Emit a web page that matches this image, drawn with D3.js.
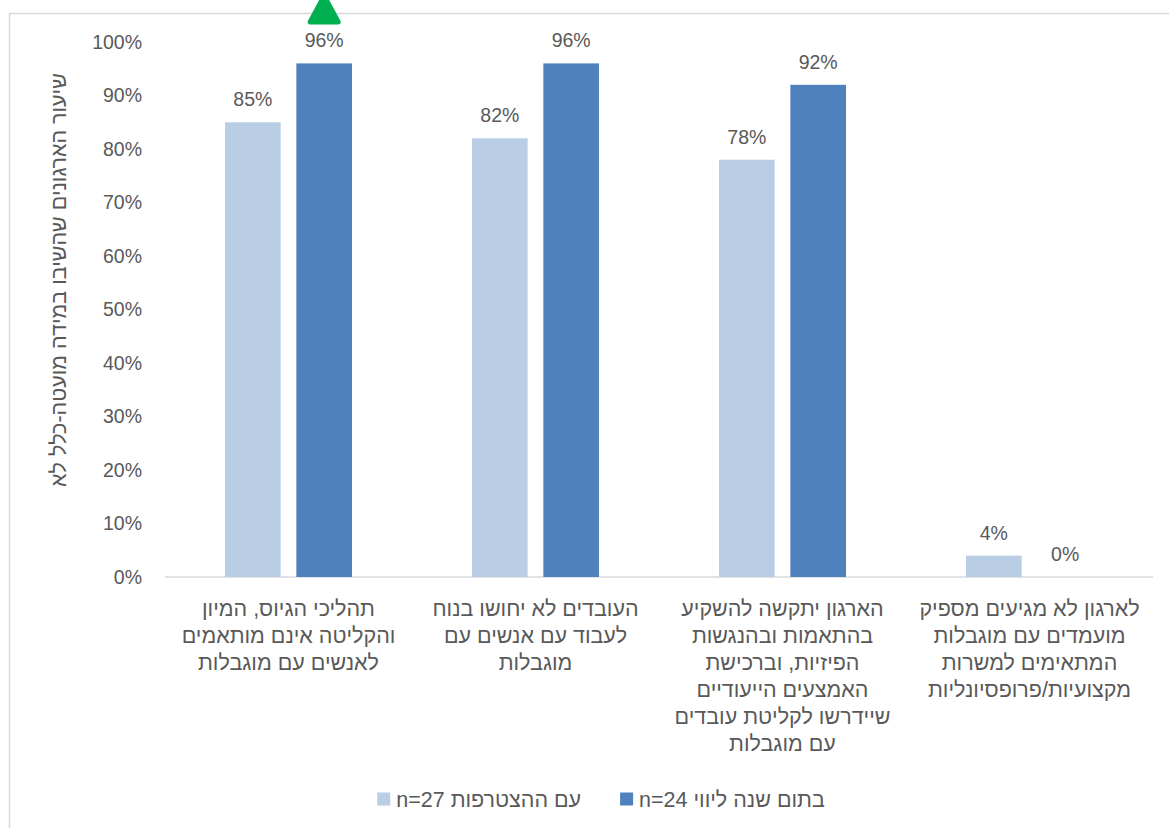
<html>
<head>
<meta charset="utf-8">
<style>
body { margin: 0; background: #fff; }
text { font-family: 'Liberation Sans', Arial, sans-serif; fill: #595959; }
</style>
</head>
<body>

<svg></svg>

<script src="https://cdnjs.cloudflare.com/ajax/libs/d3/7.8.5/d3.min.js"></script>
<script>

// chart values
const categories = [
    ['תהליכי הגיוס, המיון', 'והקליטה אינם מותאמים', 'לאנשים עם מוגבלות'],
    ['העובדים לא יחושו בנוח', 'לעבוד עם אנשים עם', 'מוגבלות'],
    ['הארגון יתקשה להשקיע', 'בהתאמות ובהנגשות', 'הפיזיות, וברכישת', 'האמצעים הייעודיים', 'שיידרשו לקליטת עובדים', 'עם מוגבלות'],
    ['לארגון לא מגיעים מספיק', 'מועמדים עם מוגבלות', 'המתאימים למשרות', 'מקצועיות/פרופסיונליות'],
];
const seriesNames = ['עם ההצטרפות n=27', 'בתום שנה ליווי n=24'];
const atJoining = [0.85, 0.82, 0.78, 0.04];
const afterYear = [0.96, 0.96, 0.92, 0.00];
const yTicks = [0, 0.1, 0.2, 0.3, 0.4, 0.5, 0.6, 0.7, 0.8, 0.9, 1.0];
const yTitle = 'שיעור הארגונים שהשיבו במידה מועטה-כלל לא';
const highlighted = {category: 0, series: 1};

const colors = ['#b9cde5', '#4f81bd'];

const fullWidth = 1169;
const fullHeight = 828;
const plot = {left: 165, right: 1153, top: 42, bottom: 577};
const fontSize = 19.5;
const hebrewSize = 21.5;

const svg = d3.select('svg')
    .attr('width', fullWidth)
    .attr('height', fullHeight);

// chart area frame (runs off the page on right and bottom)
svg.append('rect')
    .attr('x', 9.5)
    .attr('y', 13.5)
    .attr('width', 1300)
    .attr('height', 1000)
    .attr('fill', 'none')
    .attr('stroke', '#d9d9d9')
    .attr('stroke-width', 1.5);

const x = d3.scaleBand()
    .domain(d3.range(categories.length))
    .range([plot.left, plot.right]);

const xSub = d3.scaleBand()
    .domain([0, 1])
    .range([60, x.bandwidth() - 60])
    .paddingInner(0.22);

const y = d3.scaleLinear()
    .domain([0, 1])
    .range([plot.bottom, plot.top]);

// y axis tick labels
const yAxis = svg.append('g')
    .attr('transform', 'translate(142,0)')
    .call(d3.axisLeft(y).tickValues(yTicks).tickSize(0).tickPadding(0).tickFormat(d3.format('.0%')));
yAxis.select('.domain').remove();
yAxis.selectAll('text')
    .attr('font-size', fontSize)
    .attr('font-family', null)
    .attr('fill', null);

// baseline
svg.append('line')
    .attr('x1', plot.left)
    .attr('x2', plot.right)
    .attr('y1', y(0))
    .attr('y2', y(0))
    .attr('stroke', '#d9d9d9')
    .attr('stroke-width', 1.5);

// bars
const series = [atJoining, afterYear];
const groups = svg.append('g').selectAll('g')
    .data(series)
    .enter().append('g')
        .attr('fill', (d, i) => colors[i]);

groups.each(function(values, s) {
    const g = d3.select(this);
    g.selectAll('rect').data(values)
        .enter().append('rect')
            .attr('x', (d, i) => x(i) + xSub(s))
            .attr('y', d => y(d))
            .attr('width', xSub.bandwidth())
            .attr('height', d => y(0) - y(d));
    g.selectAll('text').data(values)
        .enter().append('text')
            .attr('x', (d, i) => x(i) + xSub(s) + xSub.bandwidth() / 2)
            .attr('y', d => y(d) - 16)
            .attr('text-anchor', 'middle')
            .attr('font-size', fontSize)
            .text(d3.format('.0%'));
});

// category labels
const catLabels = svg.append('g').selectAll('text')
    .data(categories)
    .enter().append('text')
        .attr('direction', 'rtl')
        .attr('text-anchor', 'middle')
        .attr('font-size', hebrewSize)
        .attr('transform', (d, i) => `translate(${x(i) + x.bandwidth() / 2}, 616)`);

catLabels.selectAll('tspan')
    .data(d => d)
    .enter().append('tspan')
        .attr('x', 0)
        .attr('y', (d, i) => i * 27)
        .text(d => d);

// y axis title
svg.append('text')
    .attr('transform', 'translate(58, 280) rotate(-90)')
    .attr('direction', 'rtl')
    .attr('text-anchor', 'middle')
    .attr('dy', '0.35em')
    .attr('font-size', hebrewSize)
    .text(yTitle);

// green marker above highlighted bar
const hx = x(highlighted.category) + xSub(highlighted.series) + xSub.bandwidth() / 2;
svg.append('path')
    .attr('d', `M${hx - 14},22 L${hx + 14},22 L${hx},-4 Z`)
    .attr('fill', '#00b050')
    .attr('stroke', '#00b050')
    .attr('stroke-width', 5)
    .attr('stroke-linejoin', 'round');

// legend
const legend = svg.append('g');
const items = legend.selectAll('g')
    .data(seriesNames)
    .enter().append('g');

items.append('rect')
    .attr('width', 13)
    .attr('height', 13)
    .attr('y', -6.5)
    .attr('fill', (d, i) => colors[i]);

items.append('text')
    .attr('direction', 'rtl')
    .attr('text-anchor', 'middle')
    .attr('dy', '0.35em')
    .attr('font-size', hebrewSize)
    .text(d => d);

let cursor = 0;
items.each(function() {
    const item = d3.select(this);
    const w = item.select('text').node().getComputedTextLength();
    item.attr('transform', `translate(${cursor}, 0)`);
    item.select('text').attr('x', 19 + w / 2);
    cursor += 19 + w + 39;
});
cursor -= 39;
legend.attr('transform', `translate(${601 - cursor / 2}, 799)`);

</script>
</body>
</html>
